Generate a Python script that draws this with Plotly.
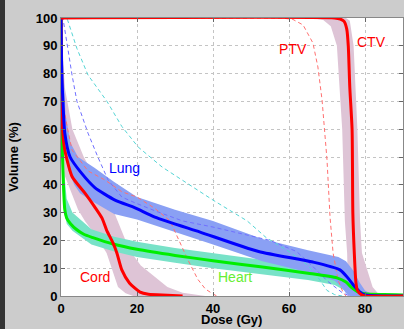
import plotly.graph_objects as go

# ---- data (dose in Gy, volume in %) ----
ctv_dose = [0, 72, 73.5, 74.5, 75.2, 75.6, 76, 76.6, 76.8, 77.2, 77.6, 78, 79, 80, 90]
ctv_vol  = [100, 100, 99.6, 98.8, 96, 90, 75, 60, 30, 15, 5, 2, 0.5, 0, 0]
ctv_up_dose = [0, 75, 76, 77, 78, 78.7, 79.2, 82, 83.4, 85]
ctv_up_vol  = [100, 100, 99, 90, 60, 27, 15.5, 3.2, 1, 0]
ctv_lo_dose = [0, 66, 69, 71, 72.6, 74, 74.7, 75.3, 75.5, 75.5]
ctv_lo_vol  = [100, 100, 99.3, 97, 90, 60, 27, 15.5, 3, 0]

ptv_dose = [0, 58, 61, 63.7, 66.3, 67.6, 68.7, 70, 70.8, 71.6, 72.9, 74.2, 75]
ptv_vol  = [100, 100, 99.5, 97.5, 91, 82.4, 70.5, 49, 28.4, 15.5, 5.8, 1.4, 0]

lung_dose = [0, 0.2, 0.5, 1, 2.4, 5.5, 8.9, 14.2, 19.5, 24.7, 36.6, 52, 66.3, 73.4, 75.5, 77.4, 78.7, 80, 85, 90]
lung_vol  = [100, 80, 70.5, 58.6, 50, 44, 39, 34.5, 31.7, 28.4, 23, 16, 12.2, 9.4, 6.5, 3.2, 1.4, 0.4, 0, 0]
lung_up_dose = [0, 0.6, 1.2, 2.5, 4.5, 8.9, 14, 20, 30, 40, 53, 65, 73, 75, 77, 78.5, 80, 82, 85]
lung_up_vol  = [100, 80, 65, 55, 50, 46, 41, 35.6, 31, 27, 20.5, 16.5, 14, 12.5, 9, 5, 2, 0.5, 0]
lung_lo_dose = [0, 0.3, 0.5, 1, 2, 3.5, 5, 8.9, 14, 20, 30, 40, 53, 65, 72, 74, 75, 76]
lung_lo_vol  = [100, 75, 60, 52, 45, 40, 37, 33.5, 29.5, 27.5, 23, 18.5, 12.5, 8.5, 5.5, 3, 1, 0]
lung_plan_dose = [0, 0.5, 1.8, 2.9, 4.2, 7.1, 9.7, 12.4, 16, 19.5, 25, 32, 40, 55, 62, 66, 70, 74, 76]
lung_plan_vol  = [100, 100, 89, 79.5, 70, 58.6, 50, 41.7, 35.6, 33.5, 30.5, 27, 24.8, 20, 16, 11, 5.5, 1.2, 0]

heart_dose = [0, 0.1, 0.2, 0.4, 0.7, 1.0, 1.5, 2.5, 4, 6, 8.4, 13.7, 20, 30, 40, 53, 65, 72.6, 75, 76.5, 78, 80, 85, 90]
heart_vol  = [100, 80, 65, 50, 38, 31, 28, 26, 24, 22.2, 21, 18.7, 16.8, 14.6, 12.7, 10.4, 8.2, 6.5, 5, 3, 1.6, 0.8, 0.5, 0.4]
heart_up_dose = [0, 0.3, 0.8, 1.5, 3, 8, 14, 20, 30, 40, 53, 65, 72.6, 75, 77, 79, 82, 90]
heart_up_vol  = [100, 70, 45, 35, 30, 24, 21.3, 19.5, 17.3, 15.4, 13, 10.8, 9, 7.5, 5, 2, 0.8, 0.6]
heart_lo_dose = [0, 0.1, 0.3, 0.7, 1.5, 3, 8, 14, 20, 30, 40, 53, 65, 72, 74, 76, 78, 90]
heart_lo_vol  = [100, 70, 45, 32, 26, 23.5, 18.5, 16, 14, 12, 10, 7.8, 5.8, 4, 2.5, 1, 0.3, 0.1]
heart_plan_dose = [0, 1.5, 1.8, 4.2, 7.1, 12.1, 16, 20.3, 26.6, 40, 49, 54, 60, 65, 68, 70, 72, 74]
heart_plan_vol  = [100, 100, 99, 89, 79.5, 70, 61, 53.6, 46.4, 34.5, 27, 21, 16, 11, 6, 2, 0.5, 0]

cord_dose = [0, 0.2, 0.4, 1, 2.9, 6.3, 8.9, 10.8, 12, 13.7, 14.7, 16, 18, 20.8, 23, 28, 32]
cord_vol  = [100, 75, 60, 52.5, 43, 37, 32, 28, 23.7, 19, 15.5, 9.4, 4.7, 1.4, 0.6, 0.3, 0]
cord_up_dose = [0, 1, 3, 6, 10, 14, 17, 18.4, 21, 23.4, 28, 32, 36, 38]
cord_up_vol  = [100, 75, 60, 50, 40, 30, 20, 15.8, 11, 8.3, 3.2, 1.2, 0.3, 0]
cord_lo_dose = [0, 0.2, 0.5, 1.8, 4.5, 6.3, 9, 12, 15, 17, 19]
cord_lo_vol  = [100, 60, 45, 40.6, 31, 27, 22, 15.5, 3.2, 1, 0]
cord_plan_dose = [0, 0.3, 0.5, 1.6, 2.9, 7.1, 11.6, 16, 20, 24.7, 28.7, 31, 33.4, 36, 38, 39.7, 41]
cord_plan_vol  = [100, 100, 70, 61, 52.5, 45, 41.7, 37.5, 35.6, 31.5, 27, 20, 13, 6, 2.5, 1, 0]

x_ticks = [0, 20, 40, 60, 80]
y_ticks = [0, 10, 20, 30, 40, 50, 60, 70, 80, 90, 100]

labels = [
    ("CTV", 81.6, 91.4, "#ff0000"),
    ("PTV", 61.0, 88.8, "#ff0000"),
    ("Lung", 16.6, 46.0, "#0000ff"),
    ("Cord", 8.9, 6.8, "#ff0000"),
    ("Heart", 45.8, 6.8, "#66ee33"),
]

PINK = "rgb(222,196,214)"
LUNG_BAND = "rgb(138,160,244)"
HEART_BAND = "rgb(120,226,200)"

fig = go.Figure()

def band(up_x, up_y, lo_x, lo_y, color):
    fig.add_trace(go.Scatter(
        x=list(up_x) + list(reversed(lo_x)),
        y=list(up_y) + list(reversed(lo_y)),
        fill="toself", fillcolor=color, mode="lines",
        line=dict(width=0, color=color), hoverinfo="skip", showlegend=False))

band(cord_up_dose, cord_up_vol, cord_lo_dose, cord_lo_vol, PINK)
band(ctv_up_dose, ctv_up_vol, ctv_lo_dose, ctv_lo_vol, PINK)
band(heart_up_dose, heart_up_vol, heart_lo_dose, heart_lo_vol, HEART_BAND)
band(lung_up_dose, lung_up_vol, lung_lo_dose, lung_lo_vol, LUNG_BAND)

def dashed(x, y, color):
    fig.add_trace(go.Scatter(x=x, y=y, mode="lines",
                             line=dict(color=color, width=1, dash="4px,3px"),
                             showlegend=False))

dashed(heart_plan_dose, heart_plan_vol, "#55d5d5")
dashed(lung_plan_dose, lung_plan_vol, "#7070ff")
dashed(cord_plan_dose, cord_plan_vol, "#ff7070")
dashed(ptv_dose, ptv_vol, "#ff7070")

def solid(x, y, color):
    fig.add_trace(go.Scatter(x=x, y=y, mode="lines",
                             line=dict(color=color, width=3, shape="spline", smoothing=0.6),
                             showlegend=False))

solid(heart_dose, heart_vol, "#00ee00")
solid(cord_dose, cord_vol, "#ff0000")
solid(lung_dose, lung_vol, "#0000ff")
solid(ctv_dose, ctv_vol, "#ff0000")

for text, x, y, c in labels:
    fig.add_annotation(x=x, y=y, text=text, showarrow=False,
                       font=dict(family="Liberation Sans, Arial", size=14, color=c),
                       xanchor="center", yanchor="middle")

W, H = 404, 329
L, R, T, B = 61, 1, 18, 33
pw, ph = W - L - R, H - T - B

# axis titles
fig.add_annotation(xref="paper", yref="paper", x=(231 - L) / pw, y=-(319 - (H - B)) / ph,
                   text="Dose (Gy)", showarrow=False, xanchor="center", yanchor="middle",
                   font=dict(family="Liberation Sans, Arial", size=13, color="black", weight="bold"))
fig.add_annotation(xref="paper", yref="paper", x=-(L - 13) / pw, y=((H - B) - 157) / ph,
                   text="Volume (%)", showarrow=False, textangle=-90, xanchor="center", yanchor="middle",
                   font=dict(family="Liberation Sans, Arial", size=13, color="black", weight="bold"))

# dark strip on the left edge
fig.add_shape(type="rect", xref="paper", yref="paper",
              x0=-L / pw, x1=-(L - 5) / pw, y0=-B / ph, y1=1 + T / ph,
              fillcolor="#333333", line=dict(width=0), layer="below")

axis_common = dict(showline=True, linecolor="#888888", linewidth=1, mirror="ticks",
                   ticks="inside", ticklen=4, tickcolor="#666666",
                   showgrid=True, gridcolor="#c4c4c4", griddash="dot", gridwidth=1,
                   zeroline=False,
                   tickfont=dict(family="Liberation Sans, Arial", size=13, color="black", weight="bold"))

fig.update_xaxes(range=[0, 90], tickvals=x_ticks, ticktext=[str(v) for v in x_ticks], **axis_common)
fig.update_yaxes(range=[0, 100], tickvals=y_ticks, ticktext=[str(v) for v in y_ticks], **axis_common)

fig.update_layout(width=W, height=H, margin=dict(l=L, r=R, t=T, b=B, autoexpand=False),
                  paper_bgcolor="#cccccc", plot_bgcolor="white", showlegend=False)

fig.write_html("out.html", config={"displayModeBar": False},
               post_script="document.body.style.margin='0px';document.body.style.padding='0px';"
                           "document.body.style.overflow='hidden';")
